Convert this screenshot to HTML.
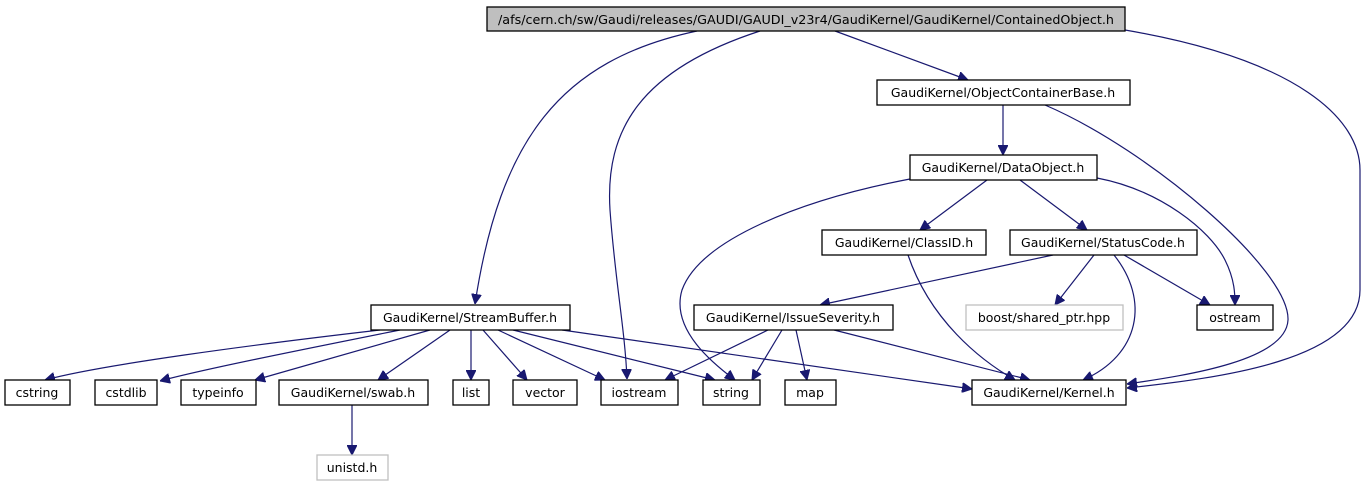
<!DOCTYPE html>
<html><head><meta charset="utf-8"><style>
html,body{margin:0;padding:0;background:#fff;}
svg{display:block;}
text{font-family:"DejaVu Sans","Liberation Sans",sans-serif;font-size:12.5px;fill:#000;text-anchor:middle;}
.n{fill:#fff;stroke:#000;stroke-width:1.3;}
.g{fill:#fff;stroke:#bfbfbf;stroke-width:1.3;}
.e{fill:none;stroke:#191970;stroke-width:1.2;marker-end:url(#a);}
</style></head><body>
<svg width="1367" height="485" viewBox="0 0 1367 485" xmlns="http://www.w3.org/2000/svg">
<defs><marker id="a" viewBox="0 0 10 10" refX="10" refY="5" markerWidth="10" markerHeight="10" markerUnits="userSpaceOnUse" orient="auto"><path d="M0,0 L10,5 L0,10 z" fill="#191970" stroke="#191970"/></marker></defs>
<!-- edges -->
<path class="e" d="M697,31 C560,60 500,140 475,304"/>
<path class="e" d="M760,31 C640,70 605,130 610,210 C615,280 625,330 627,379"/>
<path class="e" d="M835,31 L968,80"/>
<path class="e" d="M1125,30 C1300,60 1360,120 1360,170 L1360,290 C1360,360 1220,378 1127,388"/>
<path class="e" d="M1003,105 L1003,155"/>
<path class="e" d="M1045,105 C1150,150 1290,270 1288,320 C1286,360 1190,375 1127,384"/>
<path class="e" d="M987,180 L920,230"/>
<path class="e" d="M1020,180 L1087,230"/>
<path class="e" d="M1097,178 C1160,190 1210,230 1225,260 C1235,280 1235,295 1235,305"/>
<path class="e" d="M910,179 C800,200 700,240 682,290 C670,330 715,365 735,380"/>
<path class="e" d="M908,255 C930,320 980,360 1015,380"/>
<path class="e" d="M1053,255 L820,305"/>
<path class="e" d="M1094,255 L1055,305"/>
<path class="e" d="M1114,255 C1150,300 1140,355 1083,380"/>
<path class="e" d="M1124,255 L1210,305"/>
<path class="e" d="M380,330 C250,345 100,365 45,380"/>
<path class="e" d="M400,330 C300,350 200,370 160,381"/>
<path class="e" d="M430,330 C360,350 290,370 255,380"/>
<path class="e" d="M450,330 L378,380"/>
<path class="e" d="M471,330 L471,380"/>
<path class="e" d="M483,330 L527,380"/>
<path class="e" d="M498,330 L605,380"/>
<path class="e" d="M513,330 L715,380"/>
<path class="e" d="M562,330 L972,389"/>
<path class="e" d="M768,330 L665,380"/>
<path class="e" d="M782,330 L752,380"/>
<path class="e" d="M796,330 L807,380"/>
<path class="e" d="M834,330 L1030,380"/>
<path class="e" d="M352,405 L352,455"/>
<!-- nodes -->
<rect x="487" y="7" width="638" height="24" fill="#bfbfbf" stroke="#000" stroke-width="1.3"/>
<text x="806" y="24" textLength="616" lengthAdjust="spacingAndGlyphs">/afs/cern.ch/sw/Gaudi/releases/GAUDI/GAUDI_v23r4/GaudiKernel/GaudiKernel/ContainedObject.h</text>
<rect class="n" x="877" y="80" width="253" height="25"/><text x="1003" y="97">GaudiKernel/ObjectContainerBase.h</text>
<rect class="n" x="910" y="155" width="187" height="25"/><text x="1003" y="172">GaudiKernel/DataObject.h</text>
<rect class="n" x="822" y="230" width="164" height="25"/><text x="904" y="247">GaudiKernel/ClassID.h</text>
<rect class="n" x="1010" y="230" width="187" height="25"/><text x="1103" y="247">GaudiKernel/StatusCode.h</text>
<rect class="n" x="371" y="305" width="199" height="25"/><text x="470" y="322">GaudiKernel/StreamBuffer.h</text>
<rect class="n" x="694" y="305" width="199" height="25"/><text x="793" y="322">GaudiKernel/IssueSeverity.h</text>
<rect class="g" x="966" y="305" width="157" height="25"/><text x="1044" y="322">boost/shared_ptr.hpp</text>
<rect class="n" x="1197" y="305" width="76" height="25"/><text x="1235" y="322">ostream</text>
<rect class="n" x="5" y="380" width="65" height="25"/><text x="37" y="397">cstring</text>
<rect class="n" x="95" y="380" width="62" height="25"/><text x="126" y="397">cstdlib</text>
<rect class="n" x="181" y="380" width="75" height="25"/><text x="218" y="397">typeinfo</text>
<rect class="n" x="279" y="380" width="149" height="25"/><text x="353" y="397">GaudiKernel/swab.h</text>
<rect class="n" x="453" y="380" width="36" height="25"/><text x="471" y="397">list</text>
<rect class="n" x="513" y="380" width="64" height="25"/><text x="545" y="397">vector</text>
<rect class="n" x="601" y="380" width="77" height="25"/><text x="639" y="397">iostream</text>
<rect class="n" x="703" y="380" width="57" height="25"/><text x="731" y="397">string</text>
<rect class="n" x="785" y="380" width="51" height="25"/><text x="810" y="397">map</text>
<rect class="n" x="972" y="380" width="154" height="25"/><text x="1049" y="397">GaudiKernel/Kernel.h</text>
<rect class="g" x="317" y="455" width="71" height="25"/><text x="352" y="472">unistd.h</text>
</svg>
</body></html>
